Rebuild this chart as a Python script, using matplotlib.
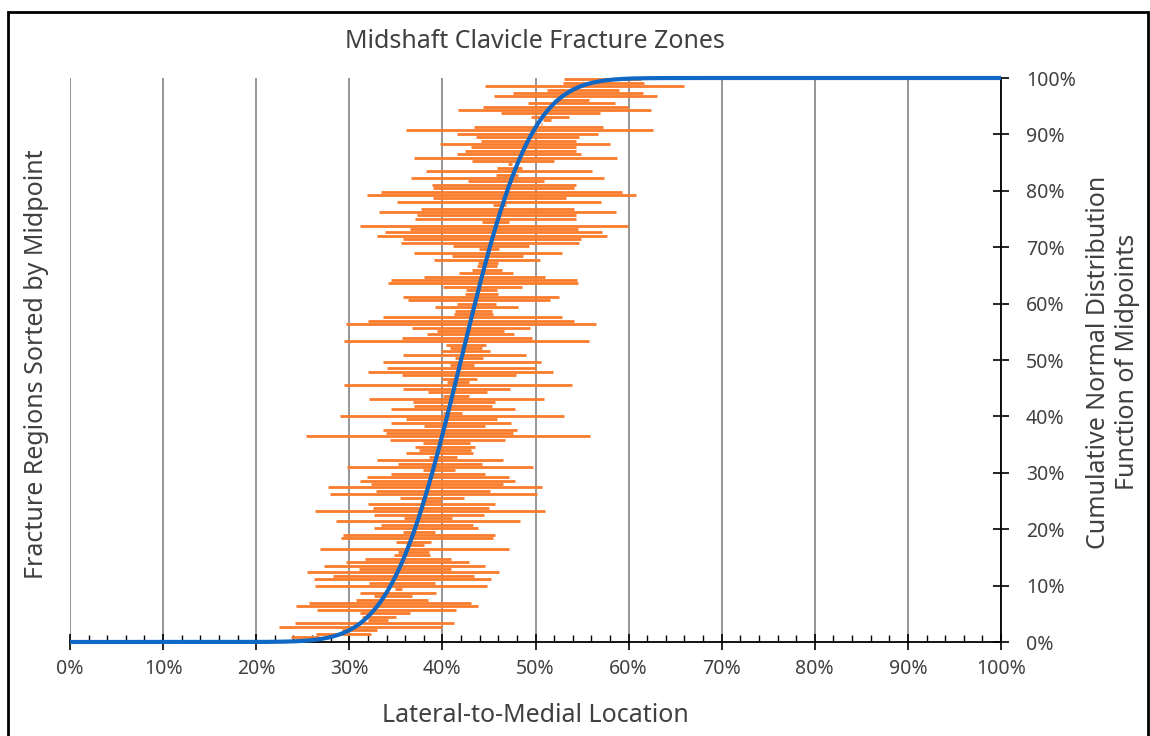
import math
import numpy as np
import matplotlib
matplotlib.use("Agg")
import matplotlib.pyplot as plt
from matplotlib.patches import Rectangle
from matplotlib.ticker import MultipleLocator, FuncFormatter

plt.rcParams['font.family'] = ['Noto Sans', 'DejaVu Sans']

# Fracture regions (lateral-to-medial %, start / end), listed bottom to top
starts = [
    23.7, 26.4, 29.2, 22.4, 24.2, 32.0, 31.4, 31.2, 26.5, 24.3, 25.7, 30.7, 32.7, 31.1, 34.9, 26.3,
    32.1, 26.2, 28.2, 25.5, 31.0, 27.3, 29.6, 31.7,
    34.8, 35.2, 26.9, 36.1, 35.0, 29.1, 29.3, 35.8, 32.6, 33.4, 28.6, 35.9, 32.7, 26.3, 32.5, 32.0,
    37.7, 35.4, 27.9, 32.9, 27.7, 32.3, 31.1, 31.9, 34.5, 37.9, 29.7, 35.2, 33.0,
    38.6, 36.1, 37.5, 37.1, 37.9, 34.4, 25.4, 33.9, 33.6, 38.0, 34.5, 36.1, 29.0, 40.1, 34.5, 37.0,
    36.8, 32.1, 40.1, 38.4, 35.8, 29.4, 40.5, 40.0, 35.7, 32.0, 34.0, 40.8,
    33.6, 41.3, 35.8, 39.8, 40.8, 40.4, 29.4, 35.7, 38.3, 39.4, 36.7, 29.6, 32.0, 33.6, 41.2, 41.4,
    39.2, 41.6, 36.3, 35.8, 42.4, 42.5, 40.1, 34.2, 34.5, 38.0, 41.8, 43.2,
    43.7, 43.8, 39.1, 41.0, 37.0, 43.9, 41.1, 35.6, 35.8, 33.0, 33.8, 36.5, 31.1, 44.2, 37.1, 37.25,
    33.2, 37.7, 45.4, 35.1, 39.0, 31.9, 33.4, 39.0, 38.9, 42.7, 36.6, 45.8,
    38.2, 45.9, 47.0, 43.2, 36.9, 41.6, 42.4, 43.1, 39.75, 44.1, 43.6, 41.6, 36.1, 43.4, 50.6, 50.8,
    49.5, 46.3, 41.7, 44.4, 49.2, 52.0, 45.5, 47.6, 51.25, 44.6, 53.0, 53.1,
]
ends = [
    26.7, 32.3, 33.0, 40.0, 41.2, 34.2, 35.0, 36.5, 41.5, 43.8, 43.1, 38.4, 36.7, 39.3, 35.7, 44.8,
    39.2, 45.2, 43.4, 46.1, 40.9, 44.6, 42.9, 40.9,
    38.7, 38.6, 47.1, 38.0, 38.8, 45.4, 45.6, 39.2, 43.8, 43.3, 48.3, 41.0, 44.5, 51.0, 45.0, 45.7,
    39.9, 42.35, 50.2, 45.1, 50.7, 46.5, 47.8, 47.1, 44.6, 41.3, 49.7, 44.2, 46.5,
    41.6, 43.25, 43.1, 43.5, 43.0, 46.7, 55.9, 47.6, 48.0, 44.6, 47.4, 45.9, 53.1, 42.1, 47.75, 45.3,
    45.6, 50.9, 42.9, 44.75, 47.3, 53.9, 42.9, 43.7, 47.9, 51.9, 50.0, 43.4,
    50.6, 44.4, 49.0, 45.1, 44.2, 44.7, 55.8, 49.6, 47.7, 46.6, 49.4, 56.5, 54.1, 52.9, 45.4, 45.3,
    48.1, 45.8, 51.6, 52.5, 46.0, 45.9, 48.6, 54.6, 54.5, 51.0, 47.6, 46.4,
    45.9, 46.0, 50.5, 48.7, 52.8, 46.1, 49.3, 54.7, 54.9, 57.7, 57.1, 54.6, 59.9, 47.1, 54.3, 54.4,
    58.6, 54.1, 46.8, 57.0, 53.25, 60.8, 59.3, 54.1, 54.3, 50.9, 57.4, 48.1,
    56.1, 48.5, 47.5, 52.0, 58.75, 54.9, 54.4, 54.3, 58.0, 54.4, 54.7, 56.75, 62.6, 57.2, 50.7, 51.7,
    53.6, 56.9, 62.4, 59.9, 58.5, 55.8, 63.1, 61.5, 59.0, 66.0, 61.7, 61.3,
]

# Parameters of the blue cumulative normal curve (%)
cdf_mean = 42.0
cdf_sd = 5.9

x_ticks = list(range(0, 101, 10))
right_ticks = list(range(0, 101, 10))

title = "Midshaft Clavicle Fracture Zones"
xlabel = "Lateral-to-Medial Location"
ylabel_left = "Fracture Regions Sorted by Midpoint"
ylabel_right = "Cumulative Normal Distribution\nFunction of Midpoints"

ORANGE = "#FA7B2C"
BLUE = "#0F68C4"
GRID = "#8C8C8C"
TXT = "#404040"

starts_a = np.array(starts)
ends_a = np.array(ends)
idx = np.arange(len(starts_a))

fig = plt.figure(figsize=(11.5, 7.36), dpi=100)
ax = fig.add_axes([70 / 1150, 1 - 642 / 736, (1001 - 70) / 1150, (642 - 78) / 736])

ax.set_xlim(0, 100)
ax.set_ylim(-1.5, 164.4)
for t in x_ticks:
    ax.axvline(t, color=GRID, lw=1.3, zorder=1)

ax.hlines(idx, starts_a, ends_a, color=ORANGE, lw=2.0, zorder=2, capstyle='butt')

for s in ['top', 'left', 'right']:
    ax.spines[s].set_visible(False)
ax.spines['bottom'].set_color('black')
ax.spines['bottom'].set_linewidth(1.3)
ax.set_yticks([])
ax.set_xticks(x_ticks)
ax.xaxis.set_minor_locator(MultipleLocator(2))
ax.tick_params(axis='x', which='major', direction='inout', length=12, width=1.2, color='black',
               labelsize=14, labelcolor=TXT, pad=6)
ax.tick_params(axis='x', which='minor', direction='in', length=5, width=1.0, color='black')
ax.xaxis.set_major_formatter(FuncFormatter(lambda v, p: f"{int(round(v))}%"))

ax2 = ax.twinx()
ax2.set_ylim(0, 100)
xs = np.linspace(0, 100, 801)
cdf = np.array([0.5 * (1 + math.erf((x - cdf_mean) / (cdf_sd * math.sqrt(2)))) for x in xs]) * 100
ax2.plot(xs, cdf, color=BLUE, lw=3.0, zorder=5, clip_on=False, solid_capstyle='butt')
for s in ['top', 'left', 'bottom']:
    ax2.spines[s].set_visible(False)
ax2.spines['right'].set_color('black')
ax2.spines['right'].set_linewidth(1.3)
ax2.set_yticks(right_ticks)
ax2.yaxis.set_major_formatter(FuncFormatter(lambda v, p: f"{int(round(v))}%"))
ax2.tick_params(axis='y', direction='inout', length=12, width=1.2, color='black',
                labelsize=14, labelcolor=TXT, pad=12)

fig.text(535 / 1150, 1 - 42 / 736, title, ha='center', va='center', fontsize=18, color=TXT)
fig.text(535 / 1150, 1 - 715 / 736, xlabel, ha='center', va='center', fontsize=18, color=TXT)
fig.text(37 / 1150, 1 - 364 / 736, ylabel_left, ha='center', va='center', rotation=90,
         fontsize=18, color=TXT)
fig.text(1113 / 1150, 1 - 362 / 736, ylabel_right, ha='center', va='center', rotation=90,
         fontsize=18, color=TXT, linespacing=1.2, multialignment='center')

fig.patches.append(Rectangle((8 / 1150, -0.05), (1148 - 8) / 1150, 1.05 - 12 / 736,
                             transform=fig.transFigure, fill=False, edgecolor='black', lw=2.0))

fig.savefig("out.png", dpi=100)
